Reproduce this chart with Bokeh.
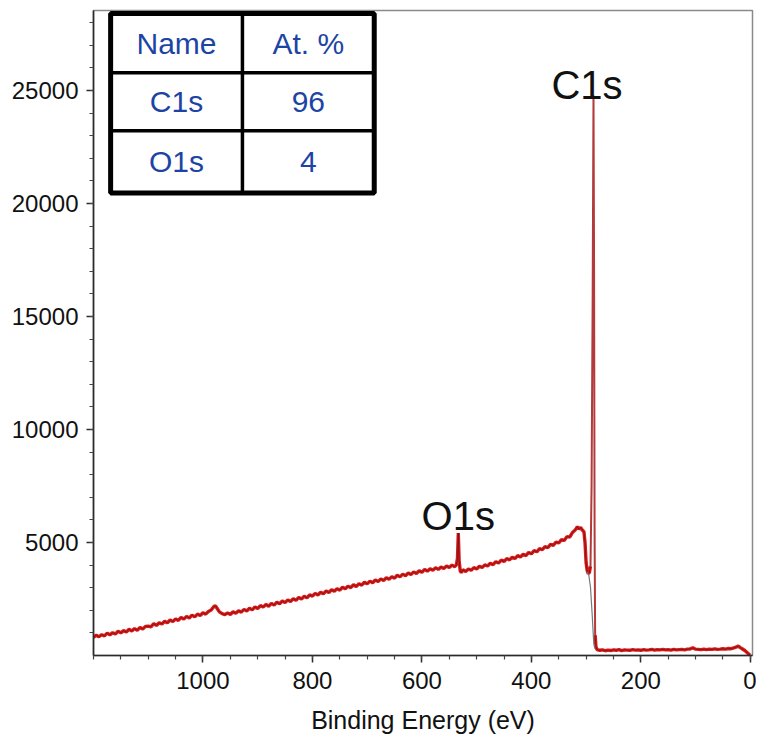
from bokeh.plotting import figure
from bokeh.models import FixedTicker, Range1d
from bokeh.core.properties import value
from bokeh.embed import file_html
from bokeh.resources import INLINE

# ---------------- data ----------------
binding_energy = [
    1200, 1195, 1190, 1185, 1180, 1175, 1170, 1165, 1160, 1155, 1150, 1145, 1140, 1135, 1130,
    1125, 1120, 1115, 1110, 1105, 1100, 1095, 1090, 1085, 1080, 1075, 1070, 1065, 1060, 1055,
    1050, 1045, 1040, 1035, 1030, 1025, 1020, 1015, 1010, 1005, 1000, 995, 990, 985, 980,
    977, 974, 970, 965, 960, 955, 950, 945, 940, 935, 930, 925, 920, 915, 910,
    905, 900, 895, 890, 885, 880, 875, 870, 865, 860, 855, 850, 845, 840, 835,
    830, 825, 820, 815, 810, 805, 800, 795, 790, 785, 780, 775, 770, 765, 760,
    755, 750, 745, 740, 735, 730, 725, 720, 715, 710, 705, 700, 695, 690, 685,
    680, 675, 670, 665, 660, 655, 650, 645, 640, 635, 630, 625, 620, 615, 610,
    605, 600, 595, 590, 585, 580, 575, 570, 565, 560, 555, 550, 545, 540, 537,
    535, 533.5, 532, 530, 528, 525, 520, 515, 510, 505, 500, 495, 490, 485, 480,
    475, 470, 465, 460, 455, 450, 445, 440, 435, 430, 425, 420, 415, 410, 405,
    400, 395, 390, 385, 380, 375, 370, 365, 360, 355, 350, 345, 340, 335, 330,
    325, 320, 316, 313, 310, 307, 304, 302, 300, 298, 296, 294, 292, 290, 288,
    286.5, 285.5, 284.5, 283.5, 282, 280, 275, 270, 265, 260, 255, 250, 245, 240, 235,
    230, 225, 220, 215, 210, 205, 200, 195, 190, 185, 180, 175, 170, 165, 160,
    155, 150, 145, 140, 135, 130, 125, 120, 115, 110, 105, 100, 95, 90, 85,
    80, 75, 70, 65, 60, 55, 50, 45, 40, 35, 30, 25, 22, 19, 15,
    10, 5, 2, 0,
]
counts = [
    800, 900, 830, 920, 870, 990, 910, 1010, 950, 1070, 1000, 1100, 1040, 1160, 1080,
    1190, 1120, 1240, 1170, 1290, 1300, 1270, 1410, 1330, 1450, 1390, 1520, 1440, 1570, 1500,
    1620, 1550, 1690, 1610, 1730, 1660, 1790, 1710, 1830, 1770, 1890, 1830, 1950, 2010, 2170,
    2190, 2080, 1930, 1850, 1810, 1880, 1820, 1930, 1870, 1980, 1920, 2040, 1970, 2090, 2020,
    2150, 2080, 2210, 2140, 2260, 2180, 2310, 2230, 2360, 2290, 2410, 2340, 2460, 2390, 2510,
    2440, 2570, 2500, 2620, 2550, 2680, 2630, 2750, 2680, 2800, 2730, 2860, 2780, 2910, 2840,
    2960, 2890, 3020, 2950, 3070, 3000, 3130, 3050, 3180, 3110, 3240, 3170, 3290, 3220, 3340,
    3270, 3390, 3320, 3440, 3370, 3490, 3420, 3550, 3480, 3600, 3530, 3650, 3580, 3700, 3630,
    3750, 3680, 3810, 3730, 3840, 3770, 3880, 3810, 3920, 3850, 3960, 3890, 4000, 3930, 4010,
    4300, 5420, 4200, 3750, 3670, 3790, 3720, 3830, 3770, 3890, 3830, 3950, 3890, 4010, 3960,
    4080, 4020, 4150, 4090, 4220, 4160, 4290, 4230, 4350, 4290, 4420, 4360, 4480, 4420, 4560,
    4500, 4640, 4590, 4730, 4680, 4820, 4770, 4920, 4870, 5020, 4980, 5130, 5090, 5260, 5240,
    5440, 5550, 5700, 5590, 5670, 5550, 5480, 5000, 4100, 3750, 3620, 3680, 3950, 7500, 16000,
    24780, 17500, 5500, 900, 380, 260, 230, 250, 210, 240, 220, 250, 230, 260, 220,
    250, 240, 230, 260, 240, 250, 230, 260, 240, 250, 270, 240, 260, 250, 270,
    250, 260, 240, 270, 250, 260, 270, 250, 280, 290, 340, 280, 270, 260, 280,
    260, 280, 270, 290, 270, 280, 300, 280, 310, 300, 340, 380, 420, 360, 300,
    220, 110, 40, 10,
]

# background (grey) trace under the C1s edge
background_energy = [298, 295, 292, 289, 286, 284]
background_counts = [3700, 3540, 3020, 1850, 530, 300]

# peak labels
peak_names = ["C1s", "O1s"]
peak_energy = [285.5, 533.5]
peak_counts = [24780, 5420]

# quantification table
table_header = ["Name", "At. %"]
table_names = ["C1s", "O1s"]
table_at_pct = ["96", "4"]

x_tick_values = [0, 200, 400, 600, 800, 1000]
x_minor_values = list(range(0, 1201, 50))
y_tick_values = [5000, 10000, 15000, 20000, 25000]
y_minor_values = list(range(1000, 28001, 1000))

# ---------------- figure ----------------
FONT = "Liberation Sans"
p = figure(width=756, height=738,
           x_range=Range1d(1200, -4), y_range=Range1d(0, 28540),
           output_backend="svg", toolbar_location=None,
           min_border_left=93, min_border_right=4, min_border_top=10, min_border_bottom=83)
p.grid.visible = False
p.background_fill_color = "white"
p.border_fill_color = "white"
p.outline_line_color = "#8a8a8a"
p.outline_line_width = 1.5

for ax in (p.xaxis[0], p.yaxis[0]):
    ax.axis_line_color = "#2a2a2a"
    ax.axis_line_width = 1.6
    ax.major_tick_line_color = "#2a2a2a"
    ax.major_tick_line_width = 1.5
    ax.minor_tick_line_color = "#444444"
    ax.minor_tick_line_width = 1.2
    ax.major_tick_out = 7
    ax.major_tick_in = 0
    ax.minor_tick_out = 4
    ax.minor_tick_in = 0
    ax.major_label_text_font = FONT
    ax.major_label_text_font_size = "24px"
    ax.major_label_text_color = "#111111"

p.xaxis.ticker = FixedTicker(ticks=x_tick_values, minor_ticks=x_minor_values)
p.yaxis.ticker = FixedTicker(ticks=y_tick_values, minor_ticks=y_minor_values)
p.xaxis.major_label_standoff = 9
p.yaxis.major_label_standoff = 8
p.xaxis.axis_label = "Binding Energy (eV)"
p.xaxis.axis_label_text_font = FONT
p.xaxis.axis_label_text_font_size = "25px"
p.xaxis.axis_label_text_font_style = "normal"
p.xaxis.axis_label_text_color = "#111111"
p.xaxis.axis_label_standoff = 14

# spectrum: broad parts thick red, narrow C1s peak thinner
i_a = next(i for i, e in enumerate(binding_energy) if e <= 292)
i_b = next(i for i, e in enumerate(binding_energy) if e <= 283.5)
for seg in (slice(0, i_a + 1), slice(i_b, None)):
    p.line(binding_energy[seg], counts[seg], line_color="#e01818", line_width=3.4)
    p.line(binding_energy[seg], counts[seg], line_color="#3a1a1a", line_width=0.8, line_alpha=0.75)
peak_seg = slice(i_a, i_b + 1)
p.line(binding_energy[peak_seg], counts[peak_seg], line_color="#b23a3a", line_width=2.0)
p.line(background_energy, background_counts, line_color="#777777", line_width=1.2)

# peak labels
p.text(x=[peak_energy[0]], y=[peak_counts[0]], text=[peak_names[0]],
       text_font=value(FONT), text_font_size="40px", text_color="#111111",
       text_align="center", text_baseline="alphabetic", x_offset=-7, y_offset=-10)
p.text(x=[peak_energy[1]], y=[peak_counts[1]], text=[peak_names[1]],
       text_font=value(FONT), text_font_size="40px", text_color="#111111",
       text_align="center", text_baseline="alphabetic", x_offset=0, y_offset=-17)

# table (positions in data space)
t_left, t_mid, t_right = 1168.7, 927.9, 687.1
t_top, t_r1, t_r2, t_bot = 28407, 25788, 23214, 20462
p.quad(left=[t_left], right=[t_right], top=[t_top], bottom=[t_bot],
       fill_color="white", line_color="black", line_width=5)
p.segment(x0=[t_left, t_left, t_mid], y0=[t_r1, t_r2, t_top],
          x1=[t_right, t_right, t_mid], y1=[t_r1, t_r2, t_bot],
          line_color="black", line_width=3.5)
col_x = [(t_left + t_mid) / 2, (t_mid + t_right) / 2]
row_y = [(t_top + t_r1) / 2, (t_r1 + t_r2) / 2, (t_r2 + t_bot) / 2]
cells_x, cells_y, cells_t = [], [], []
rows = [table_header] + [[n, a] for n, a in zip(table_names, table_at_pct)]
for r, row in enumerate(rows):
    for c, txt in enumerate(row):
        cells_x.append(col_x[c]); cells_y.append(row_y[r]); cells_t.append(txt)
p.text(x=cells_x, y=cells_y, text=cells_t, text_font=value(FONT),
       text_font_size="30px", text_color="#1c44a4",
       text_align="center", text_baseline="middle")

open("out.html", "w").write(file_html(p, INLINE))
